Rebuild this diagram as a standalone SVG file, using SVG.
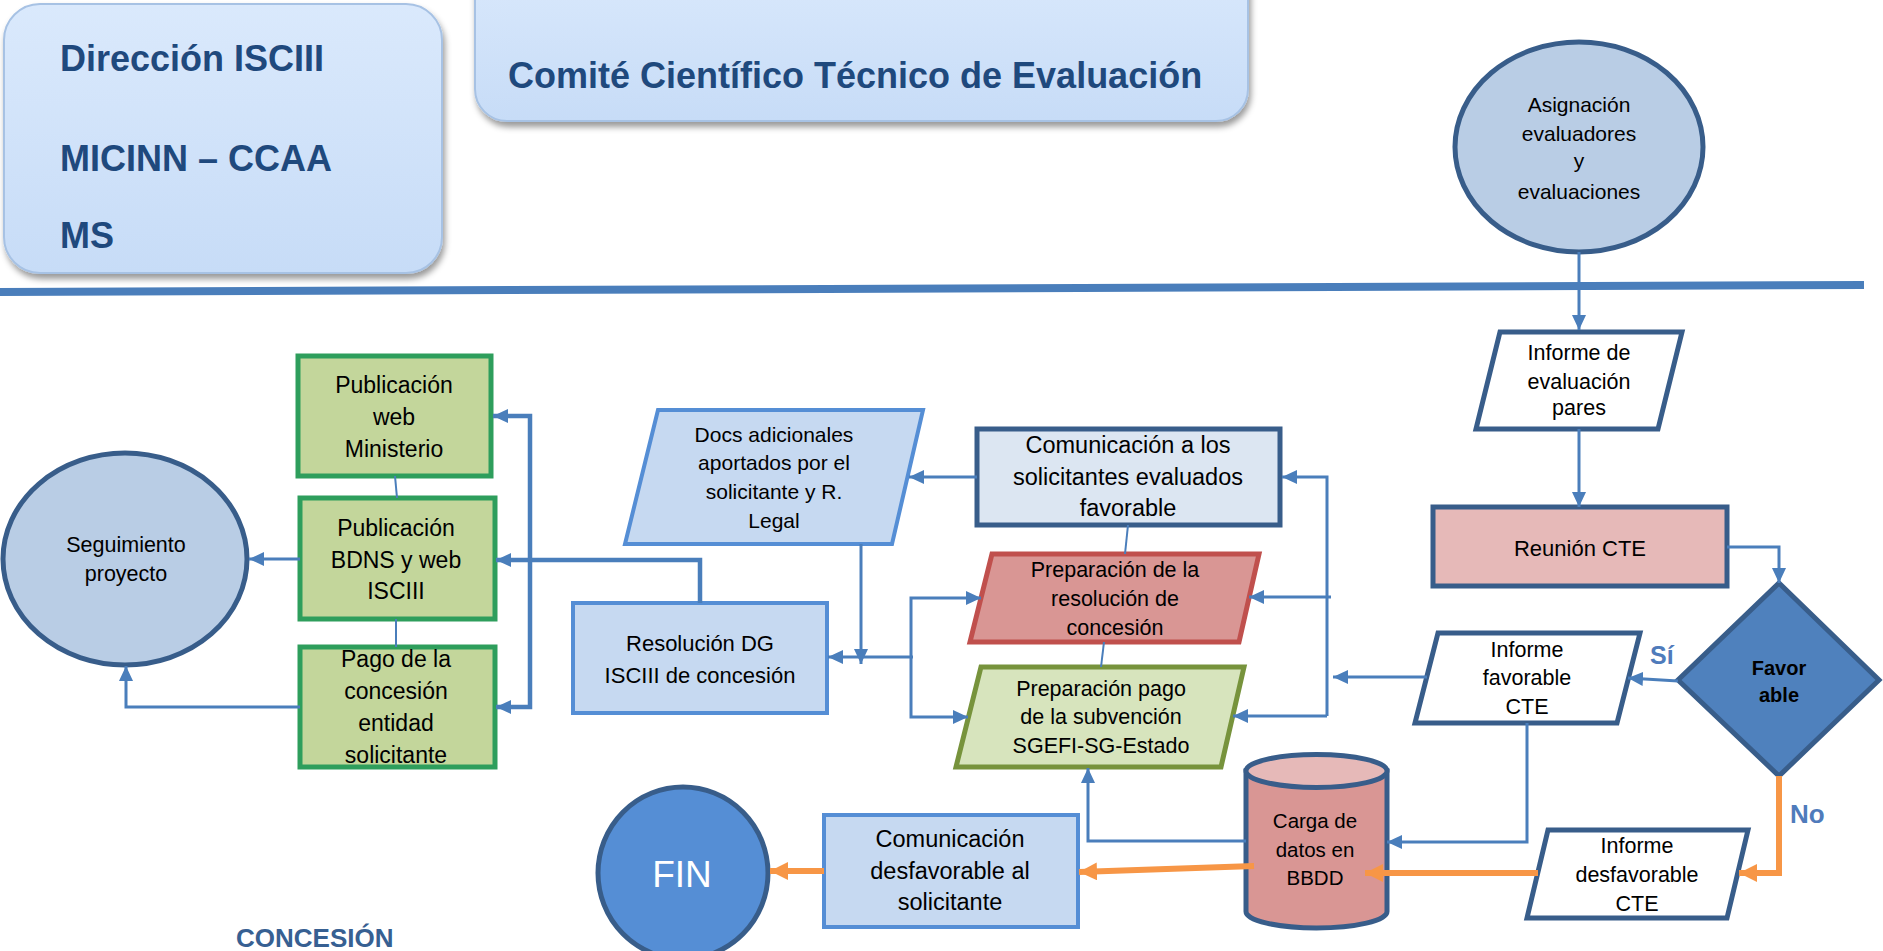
<svg xmlns="http://www.w3.org/2000/svg" width="1883" height="951" viewBox="0 0 1883 951">
<defs>
  <linearGradient id="hdrg" x1="0" y1="0" x2="0" y2="1">
    <stop offset="0" stop-color="#dae9fc"/>
    <stop offset="1" stop-color="#c7dcf7"/>
  </linearGradient>
  <filter id="sh" x="-10%" y="-10%" width="125%" height="135%">
    <feDropShadow dx="2" dy="5" stdDeviation="3" flood-color="#000" flood-opacity="0.4"/>
  </filter>
  <marker id="ab" markerUnits="userSpaceOnUse" markerWidth="15" markerHeight="14" refX="15" refY="7" orient="auto">
    <path d="M0,0 L15,7 L0,14 z" fill="#4a7ebb"/>
  </marker>
  <marker id="ao" markerUnits="userSpaceOnUse" markerWidth="18" markerHeight="18" refX="18" refY="9" orient="auto">
    <path d="M0,0 L18,9 L0,18 z" fill="#f79646"/>
  </marker>
</defs>
<style>
  .hb { fill: url(#hdrg); stroke: #a7c2e4; stroke-width: 2; filter: url(#sh); }
  .ht { font-family: "Liberation Sans", Arial, sans-serif; font-weight: bold; font-size: 36px; fill: #1f497d; }
  .t { font-family: "Liberation Sans", Arial, sans-serif; fill: #000; text-anchor: middle; }
  .ell { fill: #b9cde5; stroke: #385d8a; stroke-width: 5; }
  .grn { fill: #c3d69b; stroke: #2e9e5c; stroke-width: 5; }
  .lb { fill: #c6d9f1; stroke: #558ed5; stroke-width: 4; }
  .dk { stroke: #385d8a; stroke-width: 5; }
  .c { fill: none; stroke: #4a7ebb; stroke-width: 3; }
  .ct { fill: none; stroke: #4a7ebb; stroke-width: 4.5; }
  .cn { fill: none; stroke: #4a7ebb; stroke-width: 2; }
  .co { fill: none; stroke: #f79646; stroke-width: 6; }
  .lbl { font-family: "Liberation Sans", Arial, sans-serif; font-weight: bold; fill: #4f7bbb; }
</style>

<rect x="0" y="0" width="1883" height="951" fill="#ffffff"/>

<!-- header boxes -->
<g id="hdr-direccion">
  <rect x="4" y="4" width="438" height="269" rx="36" class="hb"/>
  <text class="ht" x="60" y="71">Dirección ISCIII</text>
  <text class="ht" x="60" y="171">MICINN – CCAA</text>
  <text class="ht" x="60" y="248">MS</text>
</g>
<g id="hdr-comite">
  <rect x="475" y="-40" width="773" height="161" rx="32" class="hb"/>
  <text class="ht" x="508" y="88">Comité Científico Técnico de Evaluación</text>
</g>

<!-- divider -->
<line x1="0" y1="292" x2="1864" y2="285" stroke="#4a7ebb" stroke-width="8"/>

<!-- nodes -->
<g id="asignacion">
  <ellipse cx="1579" cy="147" rx="124" ry="105" class="ell"/>
  <text class="t" font-size="21" x="1579" y="112">Asignación</text>
  <text class="t" font-size="21" x="1579" y="141">evaluadores</text>
  <text class="t" font-size="21" x="1579" y="168">y</text>
  <text class="t" font-size="21" x="1579" y="199">evaluaciones</text>
</g>

<g id="informe-evaluacion">
  <polygon points="1500,332 1682,332 1658,429 1476,429" fill="#ffffff" class="dk"/>
  <text class="t" font-size="21.5" x="1579" y="360">Informe de</text>
  <text class="t" font-size="21.5" x="1579" y="389">evaluación</text>
  <text class="t" font-size="21.5" x="1579" y="415">pares</text>
</g>

<g id="reunion">
  <rect x="1433" y="507" width="294" height="79" fill="#e6b9b8" class="dk"/>
  <text class="t" font-size="22" x="1580" y="556">Reunión CTE</text>
</g>

<g id="favorable">
  <polygon points="1779,583 1879,680 1779,776 1678,680" fill="#4f81bd" class="dk"/>
  <text class="t" font-size="20" font-weight="bold" x="1779" y="675">Favor</text>
  <text class="t" font-size="20" font-weight="bold" x="1779" y="702">able</text>
</g>

<g id="informe-favorable">
  <polygon points="1438,633 1640,633 1617,723 1415,723" fill="#ffffff" class="dk"/>
  <text class="t" font-size="21.5" x="1527" y="657">Informe</text>
  <text class="t" font-size="21.5" x="1527" y="685">favorable</text>
  <text class="t" font-size="21.5" x="1527" y="714">CTE</text>
</g>

<g id="informe-desfavorable">
  <polygon points="1548,830 1748,830 1727,918 1527,918" fill="#ffffff" class="dk"/>
  <text class="t" font-size="21.5" x="1637" y="853">Informe</text>
  <text class="t" font-size="21.5" x="1637" y="882">desfavorable</text>
  <text class="t" font-size="21.5" x="1637" y="911">CTE</text>
</g>

<g id="carga-bbdd">
  <path d="M1246,771 V911.5 A70.5,16.5 0 0 0 1387,911.5 V771 Z" fill="#d99694" class="dk"/>
  <ellipse cx="1316.5" cy="771" rx="70.5" ry="16.5" fill="#e6b9b8" class="dk"/>
  <text class="t" font-size="20.5" x="1315" y="828">Carga de</text>
  <text class="t" font-size="20.5" x="1315" y="857">datos en</text>
  <text class="t" font-size="20.5" x="1315" y="885">BBDD</text>
</g>

<g id="comunicacion-favorable">
  <rect x="977" y="429" width="303" height="96" fill="#dce6f2" class="dk"/>
  <text class="t" font-size="23.5" x="1128" y="453">Comunicación a los</text>
  <text class="t" font-size="23.5" x="1128" y="485">solicitantes evaluados</text>
  <text class="t" font-size="23.5" x="1128" y="516">favorable</text>
</g>

<g id="preparacion-resolucion">
  <polygon points="992,554 1259,554 1239,642 970,642" fill="#d99694" stroke="#c0504d" stroke-width="5"/>
  <text class="t" font-size="21.5" x="1115" y="577">Preparación de la</text>
  <text class="t" font-size="21.5" x="1115" y="606">resolución de</text>
  <text class="t" font-size="21.5" x="1115" y="635">concesión</text>
</g>

<g id="preparacion-pago">
  <polygon points="981,667 1244,667 1221,767 956,767" fill="#d7e4bd" stroke="#77933c" stroke-width="5"/>
  <text class="t" font-size="21.5" x="1101" y="696">Preparación pago</text>
  <text class="t" font-size="21.5" x="1101" y="724">de la subvención</text>
  <text class="t" font-size="21.5" x="1101" y="753">SGEFI-SG-Estado</text>
</g>

<g id="docs-adicionales">
  <polygon points="658,410 923,410 892,544 625,544" class="lb"/>
  <text class="t" font-size="21" x="774" y="442">Docs adicionales</text>
  <text class="t" font-size="21" x="774" y="470">aportados por el</text>
  <text class="t" font-size="21" x="774" y="499">solicitante y R.</text>
  <text class="t" font-size="21" x="774" y="528">Legal</text>
</g>

<g id="resolucion-dg">
  <rect x="573" y="603" width="254" height="110" class="lb"/>
  <text class="t" font-size="22" x="700" y="651">Resolución DG</text>
  <text class="t" font-size="22" x="700" y="683">ISCIII de concesión</text>
</g>

<g id="comunicacion-desfavorable">
  <rect x="824" y="815" width="254" height="112" class="lb"/>
  <text class="t" font-size="23.5" x="950" y="847">Comunicación</text>
  <text class="t" font-size="23.5" x="950" y="879">desfavorable al</text>
  <text class="t" font-size="23.5" x="950" y="910">solicitante</text>
</g>

<g id="fin">
  <ellipse cx="683" cy="873" rx="85" ry="86" fill="#558ed5" class="dk"/>
  <text class="t" font-size="37" x="682" y="887" fill="#ffffff" style="fill:#ffffff">FIN</text>
</g>

<g id="pub-web">
  <rect x="298" y="356" width="193" height="120" class="grn"/>
  <text class="t" font-size="23" x="394" y="393">Publicación</text>
  <text class="t" font-size="23" x="394" y="425">web</text>
  <text class="t" font-size="23" x="394" y="457">Ministerio</text>
</g>

<g id="pub-bdns">
  <rect x="300" y="498" width="195" height="121" class="grn"/>
  <text class="t" font-size="23" x="396" y="536">Publicación</text>
  <text class="t" font-size="23" x="396" y="568">BDNS y web</text>
  <text class="t" font-size="23" x="396" y="599">ISCIII</text>
</g>

<g id="pago-concesion">
  <rect x="300" y="647" width="195" height="120" class="grn"/>
  <text class="t" font-size="23" x="396" y="667">Pago de la</text>
  <text class="t" font-size="23" x="396" y="699">concesión</text>
  <text class="t" font-size="23" x="396" y="731">entidad</text>
  <text class="t" font-size="23" x="396" y="763">solicitante</text>
</g>

<g id="seguimiento">
  <ellipse cx="125" cy="559" rx="122" ry="106" class="ell"/>
  <text class="t" font-size="21.5" x="126" y="552">Seguimiento</text>
  <text class="t" font-size="21.5" x="126" y="581">proyecto</text>
</g>

<!-- connectors -->
<g id="connectors">
  <path class="c" d="M1579,252 V330" marker-end="url(#ab)"/>
  <path class="c" d="M1579,429 V507" marker-end="url(#ab)"/>
  <path class="c" d="M1727,547 H1779 V583" marker-end="url(#ab)"/>
  <path class="c" d="M1678,681 L1628,678" marker-end="url(#ab)"/>
  <path class="co" d="M1779,776 V873 H1739" marker-end="url(#ao)"/>
  <path class="co" d="M1538,873 H1365" marker-end="url(#ao)"/>
  <path class="c" d="M1527,723 V842 H1387" marker-end="url(#ab)"/>
  <path class="c" d="M1427,677 H1333" marker-end="url(#ab)"/>
  <path class="c" d="M1327,716 V477 H1282" marker-end="url(#ab)"/>
  <path class="c" d="M1327,716 H1233" marker-end="url(#ab)"/>
  <path class="c" d="M1331,597 H1249" marker-end="url(#ab)"/>
  <path class="c" d="M977,477 H909" marker-end="url(#ab)"/>
  <path class="c" d="M861,544 V664" marker-end="url(#ab)"/>
  <path class="c" d="M913,657 H828" marker-end="url(#ab)"/>
  <path class="c" d="M911,657 V598 H981" marker-end="url(#ab)"/>
  <path class="c" d="M911,657 V717 H968" marker-end="url(#ab)"/>
  <path class="ct" d="M700,603 V560 H496" marker-end="url(#ab)"/>
  <path class="ct" d="M530,560 V416 H493" marker-end="url(#ab)"/>
  <path class="ct" d="M530,560 V707 H496" marker-end="url(#ab)"/>
  <path class="c" d="M300,559 H249" marker-end="url(#ab)"/>
  <path class="c" d="M300,707 H126 V666" marker-end="url(#ab)"/>
  <path class="cn" d="M395,476 L397,498"/>
  <path class="cn" d="M396,619 V647"/>
  <path class="cn" d="M1128,525 L1125,554"/>
  <path class="cn" d="M1104,642 L1101,667"/>
  <path class="c" d="M1246,841 H1088 V768" marker-end="url(#ab)"/>
  <path class="co" d="M1254,866 L1079,872" marker-end="url(#ao)"/>
  <path class="co" d="M824,871 H770" marker-end="url(#ao)"/>
</g>

<!-- labels -->
<text class="lbl" font-size="25" x="1650" y="664">Sí</text>
<text class="lbl" font-size="26" x="1790" y="823">No</text>
<text class="lbl" font-size="26" x="236" y="947" style="fill:#376092">CONCESIÓN</text>
</svg>
